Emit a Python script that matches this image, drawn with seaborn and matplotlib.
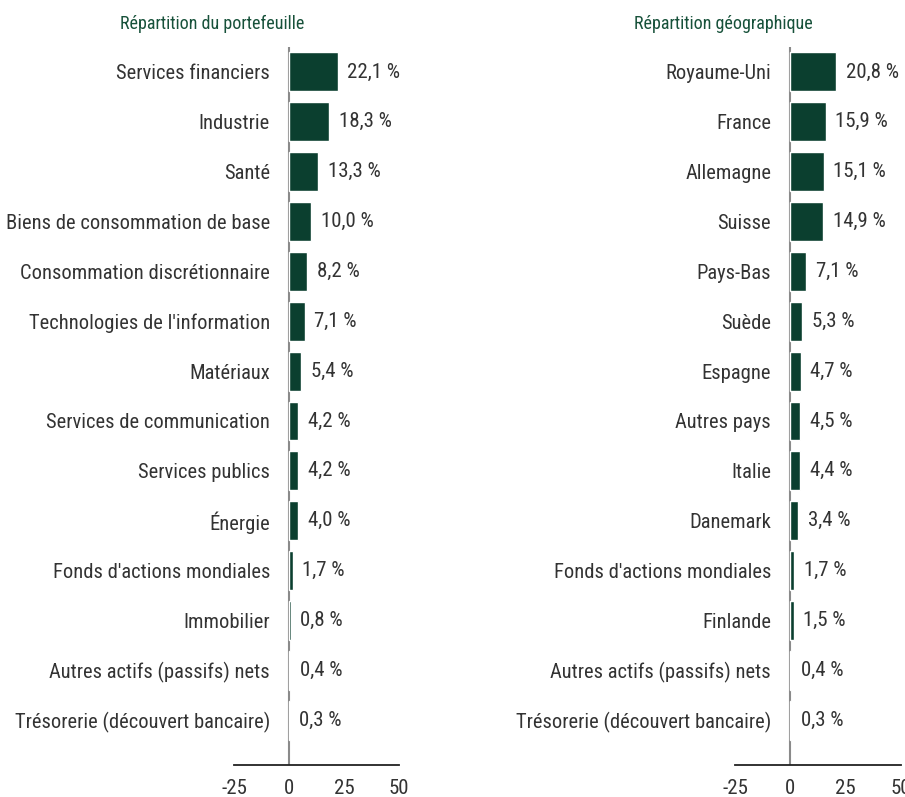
import matplotlib
matplotlib.use("Agg")
import matplotlib.pyplot as plt
import seaborn as sns

# Répartition du portefeuille
secteurs = ["Services financiers", "Industrie", "Santé", "Biens de consommation de base",
            "Consommation discrétionnaire", "Technologies de l'information", "Matériaux",
            "Services de communication", "Services publics", "Énergie",
            "Fonds d'actions mondiales", "Immobilier", "Autres actifs (passifs) nets",
            "Trésorerie (découvert bancaire)"]
secteurs_pct = [22.1, 18.3, 13.3, 10.0, 8.2, 7.1, 5.4, 4.2, 4.2, 4.0, 1.7, 0.8, 0.4, 0.3]

# Répartition géographique
pays = ["Royaume-Uni", "France", "Allemagne", "Suisse", "Pays-Bas", "Suède", "Espagne",
        "Autres pays", "Italie", "Danemark", "Fonds d'actions mondiales", "Finlande",
        "Autres actifs (passifs) nets", "Trésorerie (découvert bancaire)"]
pays_pct = [20.8, 15.9, 15.1, 14.9, 7.1, 5.3, 4.7, 4.5, 4.4, 3.4, 1.7, 1.5, 0.4, 0.3]

xticks = [-25, 0, 25, 50]

sns.set_theme(style="white")
plt.rcParams['font.family'] = ['Roboto Condensed', 'Liberation Sans', 'DejaVu Sans']

BAR = "#0b3f2f"
TITLE = "#17513a"
TXT = "#333333"

fig = plt.figure(figsize=(9.05, 7.97), dpi=100)
W, H = 905, 797


def panel(x0, x1, cats, vals, title, tx):
    ax = fig.add_axes([x0 / W, 1 - 765 / H, (x1 - x0) / W, (765 - 47) / H])
    sns.barplot(x=vals, y=cats, color=BAR, width=0.78, orient="h", ax=ax,
                saturation=1)
    ax.set_xlim(-25, 50)
    ax.set_ylim(13.9, -0.5)
    ax.set_xticks(xticks)
    ax.set_xticklabels([str(t) for t in xticks])
    ax.axvline(0, color="#8a8a8a", lw=1.5, zorder=0)
    for s in ["top", "right", "left"]:
        ax.spines[s].set_visible(False)
    ax.spines["bottom"].set_color("#222222")
    ax.spines["bottom"].set_linewidth(1.3)
    ax.tick_params(axis="x", length=0, pad=10, labelsize=15, labelcolor=TXT)
    # les étiquettes se terminent juste avant la ligne du zéro
    ax.tick_params(axis="y", length=0, pad=-26, labelsize=14.8, labelcolor=TXT)
    ax.set_xlabel("")
    ax.set_ylabel("")
    ax.bar_label(ax.containers[0], labels=[f"{v:.1f} %".replace(".", ",") for v in vals],
                 padding=7, fontsize=15, color=TXT)
    fig.text(tx / W, 1 - 24 / H, title, color=TITLE, fontsize=13, va="center", ha="left")
    return ax


panel(234, 399, secteurs, secteurs_pct, "Répartition du portefeuille", 120)
panel(735, 901, pays, pays_pct, "Répartition géographique", 634)

fig.savefig("out.png", dpi=100)
